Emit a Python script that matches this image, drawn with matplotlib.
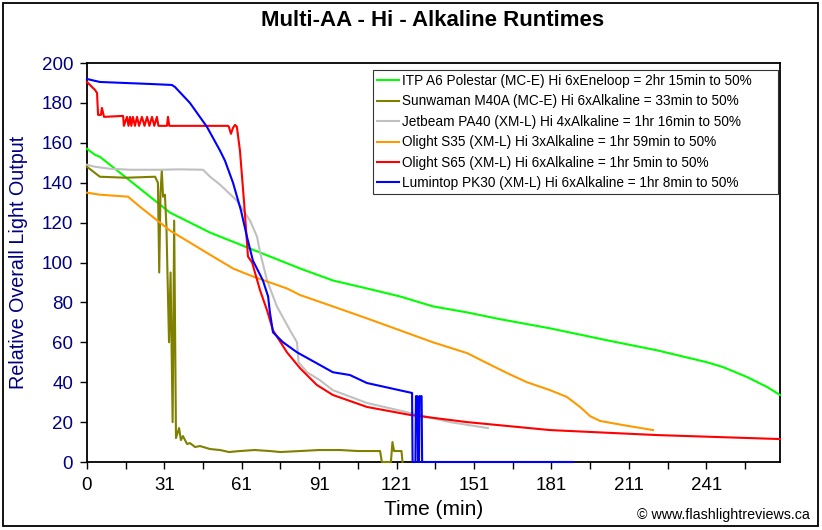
import matplotlib
matplotlib.use("Agg")
import matplotlib.pyplot as plt
from matplotlib.patches import Rectangle

# --- Data (time in minutes, relative output) ---
itp_t = [0, 3.1, 5.0, 12.8, 32.2, 47.7, 63.2, 82.6, 95.3, 108.5, 121.3, 134.1,
         147.3, 160.1, 179.5, 201.6, 220.9, 240.3, 246.5, 255.8, 263.6, 268.6]
itp_y = [157, 154, 153, 145, 125, 115, 107, 97, 91, 87, 83, 78,
         75, 71.6, 67, 61, 56, 50, 47.6, 42.6, 37.6, 33.6]

sun_t = [0, 2.0, 5.0, 15, 26.4, 27.5, 28.0, 28.5, 29.0, 29.5, 30.2, 30.8, 31.8,
         32.4, 33.2, 33.8, 34.5, 35.7, 36.4, 37.2, 38.8, 39.9, 41.9, 43.8, 47.7,
         51.6, 55, 59.3, 65, 70.9, 75, 82.6, 90, 98.1, 105, 113.6, 114.3, 117.8,
         118.4, 119.0, 121.9, 122.3]
sun_y = [148, 146, 143, 142.5, 143, 140, 95, 135, 146, 133, 134, 118, 60,
         95, 20, 121, 12, 17, 11, 13, 9, 9.5, 7.5, 8, 6.5,
         6, 5, 5.5, 6, 5.5, 5, 5.5, 6, 6, 5.5, 5.5, 0, 0,
         10, 5.5, 5.5, 0]

jet_t = [0, 3.1, 8.9, 16.7, 28.3, 36.0, 45.0, 47.7, 51.6, 58.1, 63.2, 65.9,
         67.1, 69.8, 73.6, 78.7, 81.4, 82.0, 85.3, 90.3, 95.3, 108.5, 125.2,
         140.7, 155.4]
jet_y = [149, 148, 147, 146.5, 146.5, 146.7, 146.5, 143, 139, 131, 121, 113,
         105, 91, 78, 66, 60, 50, 45, 41, 36, 29.6, 24.6, 20, 17]

s35_t = [0, 5.0, 15.9, 20.5, 24.4, 32.2, 39.9, 45.0, 56.6, 64.3, 77.5, 82.6,
         95.3, 108.5, 121.3, 134.1, 147.3, 155.0, 162.8, 170.5, 179.5, 186.0,
         191.1, 195.0, 198.8, 207.8, 219.4]
s35_y = [135, 134, 133, 128, 124, 116, 110, 106, 97, 93, 87, 83.7,
         78, 72, 66, 60, 54.6, 49.6, 44.6, 40, 36, 32.6,
         27.6, 23, 20.6, 18.5, 16]

s65_t = [0, 3.1, 3.9, 4.3, 5.4, 5.8, 6.6, 14.0, 14.3, 15.5, 16.1, 16.7, 17.2,
         17.8, 18.6, 19.4, 20.2, 21.3, 22.3, 23.3, 24.2, 25.2, 26.1, 27.1, 27.7,
         31.0, 31.4, 31.9, 54.7, 55.0, 55.8, 56.6, 57.4, 58.1, 59.3, 60.9, 62.4,
         64.0, 67.1, 69.8, 72.1, 77.5, 82.6, 89.1, 95.3, 108.5, 125.2, 147.3,
         179.5, 220.9, 268.6]
s65_y = [190.5, 186.5, 185, 174, 174, 177.5, 173, 173.5, 168.5, 173, 168.5, 173, 168.5,
         173, 168.5, 173, 168.5, 173, 168.5, 173, 168.5, 173, 168.5, 173, 168.5,
         168.5, 173, 168.5, 168.5, 168, 164.5, 167.5, 169, 168, 156, 130, 103,
         100, 86, 76, 66, 55, 47, 38.6, 33.6, 27.6, 23.6, 20,
         16, 13.5, 11.5]

pk_t = [0, 5.0, 24.4, 32.9, 34.1, 39.9, 46.5, 51.6, 53.5, 56.6, 59.7, 62.0,
        64.3, 68.2, 70.2, 70.9, 72.1, 76.0, 81.4, 90.3, 95.3, 101.9, 108.5,
        126.0, 126.2, 127.3, 127.5, 128.1, 128.3, 128.7, 128.9, 129.7, 129.9, 188.4]
pk_y = [192, 190.5, 189.5, 189, 188, 180, 168, 156, 151, 140, 126, 113,
        101, 91, 83, 75, 65, 60, 55, 48.6, 45, 43.6, 39.6,
        34.6, 0, 0, 33, 33, 0, 0, 33, 33, 0, 0]

labels = [
    "ITP A6 Polestar (MC-E) Hi 6xEneloop = 2hr 15min to 50%",
    "Sunwaman M40A (MC-E) Hi 6xAlkaline = 33min to 50%",
    "Jetbeam PA40 (XM-L) Hi 4xAlkaline = 1hr 16min to 50%",
    "Olight S35 (XM-L) Hi 3xAlkaline = 1hr 59min to 50%",
    "Olight S65 (XM-L) Hi 6xAlkaline = 1hr 5min to 50%",
    "Lumintop PK30 (XM-L) Hi 6xAlkaline = 1hr 8min to 50%",
]
colors = ["#00FF00", "#808000", "#C0C0C0", "#FF9900", "#FF0000", "#0000FF"]

x_ticks = [0, 30, 60, 90, 120, 150, 180, 210, 240]
x_tick_labels = ["0", "31", "61", "91", "121", "151", "181", "211", "241"]
y_ticks = [0, 20, 40, 60, 80, 100, 120, 140, 160, 180, 200]


def plot_runtimes():
    plt.rcParams['font.family'] = ['Liberation Sans', 'DejaVu Sans']

    fig = plt.figure(figsize=(8.22, 5.30), dpi=100)
    ax = fig.add_axes([0.1058, 0.1283, 0.8431, 0.7528])

    # --- curves ---
    series = [(itp_t, itp_y), (sun_t, sun_y), (jet_t, jet_y),
              (s35_t, s35_y), (s65_t, s65_y), (pk_t, pk_y)]
    for (t, y), lab, col in zip(series, labels, colors):
        ax.plot(t, y, color=col, linewidth=1.5, label=lab, clip_on=False, zorder=3)

    # --- axes ---
    ax.set_xlim(0, 268.6)
    ax.set_ylim(0, 200)
    ax.set_xticks(x_ticks)
    ax.set_xticklabels(x_tick_labels)
    ax.set_xticks([v + 15 for v in x_ticks], minor=True)
    ax.set_yticks(y_ticks)

    ax.tick_params(axis='x', which='both', direction='out', length=5, width=1,
                   labelsize=13.5, pad=6, colors='black')
    ax.tick_params(axis='y', direction='out', length=5, width=1,
                   labelsize=13.5, pad=5, labelcolor='#000080')
    for sp in ax.spines.values():
        sp.set_linewidth(1.3)
        sp.set_color('black')

    ax.set_xlabel('Time (min)', fontsize=15)
    ax.xaxis.set_label_coords(0.5, -0.095)
    ax.set_ylabel('Relative Overall Light Output', fontsize=14.2, color='#000080')
    ax.yaxis.set_label_coords(-0.085, 0.5)

    fig.text(433 / 822, 1 - 21 / 530, 'Multi-AA - Hi - Alkaline Runtimes',
             ha='center', va='center', fontsize=16, fontweight='bold')

    # legend box is wider than its text, like the spreadsheet original
    leg = ax.legend(loc='upper left',
                    bbox_to_anchor=(373 / 822, 1 - 186 / 530, 405 / 822, 116 / 530),
                    bbox_transform=fig.transFigure, mode='expand', borderaxespad=0,
                    fontsize=9.8, frameon=True, fancybox=False, shadow=False,
                    handlelength=1.6, handletextpad=0.25, labelspacing=0.47,
                    borderpad=0.3)
    leg.get_frame().set_edgecolor('black')
    leg.get_frame().set_linewidth(0.8)

    fig.text(810 / 822, 1 - 515 / 530, '\u00a9 www.flashlightreviews.ca',
             ha='right', va='center', fontsize=10.3)

    fig.add_artist(Rectangle((3 / 822, 4 / 530), 815 / 822, 523 / 530,
                             transform=fig.transFigure, fill=False,
                             edgecolor='black', linewidth=1.3))

    fig.savefig('out.png', dpi=100)


if __name__ == "__main__":
    plot_runtimes()
